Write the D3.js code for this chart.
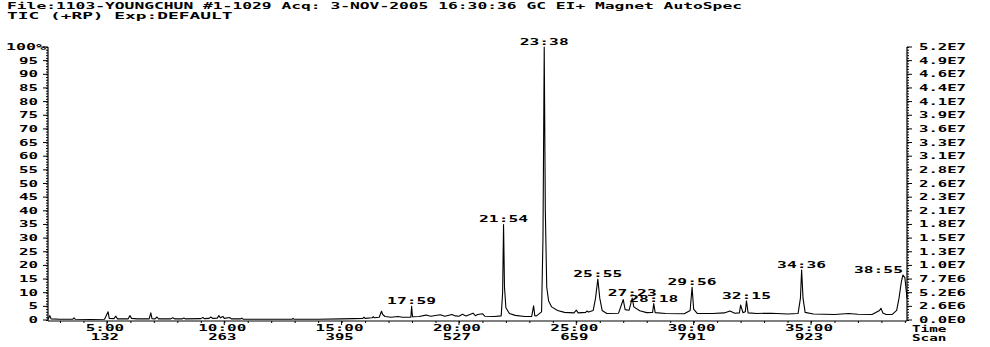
<!DOCTYPE html>
<html>
<head>
<meta charset="utf-8">
<script src="https://cdn.jsdelivr.net/npm/d3@7"></script>
<style>
  body { margin: 0; background: #fff; }
  text { font-family: "DejaVu Sans Mono", monospace; font-weight: bold; font-size: 8.5px; fill: #000; }
</style>
</head>
<body>
<script>
const width = 990;
const height = 347;

// header lines
const headerLines = [
    "File:1103-YOUNGCHUN #1-1029 Acq: 3-NOV-2005 16:30:36 GC EI+ Magnet AutoSpec",
    "TIC (+RP)   Exp:DEFAULT"
];

// axis ticks
const pctTicks = [0, 5, 10, 15, 20, 25, 30, 35, 40, 45, 50, 55, 60, 65, 70, 75, 80, 85, 90, 95, 100];
const absLabels = ["0.0E0", "2.6E6", "5.2E6", "7.7E6", "1.0E7", "1.3E7", "1.5E7", "1.8E7", "2.1E7", "2.3E7",
    "2.6E7", "2.8E7", "3.1E7", "3.3E7", "3.6E7", "3.9E7", "4.1E7", "4.4E7", "4.6E7", "4.9E7", "5.2E7"];
const timeTicks = [5, 10, 15, 20, 25, 30, 35];
const timeLabels = ["5:00", "10:00", "15:00", "20:00", "25:00", "30:00", "35:00"];
const scanLabels = ["132", "263", "395", "527", "659", "791", "923"];

// TIC trace: [minutes, % of base peak]
const trace = [
    [2.49, 0.3], [2.57, 1.6], [2.62, 0.4], [3.0, 0.3], [3.55, 0.3], [3.6, 0.8], [3.65, 0.3], [4.3, 0.2],
    [4.9, 0.3], [5.05, 3.0], [5.1, 0.6], [5.3, 0.5], [5.38, 1.4], [5.45, 0.4], [5.9, 0.4], [5.98, 1.6],
    [6.05, 0.6], [6.3, 0.4], [6.8, 0.4], [6.87, 2.6], [6.92, 0.5], [7.05, 0.4], [7.13, 1.1], [7.2, 0.4],
    [7.7, 0.4], [7.81, 0.8], [7.9, 0.4], [8.2, 0.4], [8.28, 0.7], [8.35, 0.4], [9.0, 0.5], [9.09, 0.9],
    [9.15, 0.5], [9.35, 0.6], [9.43, 1.1], [9.5, 0.6], [9.7, 0.7], [9.77, 1.6], [9.83, 0.8], [9.94, 1.3],
    [10.0, 0.6], [10.24, 0.9], [10.3, 0.4], [10.7, 0.4], [10.75, 0.7], [10.8, 0.3], [12.0, 0.3], [12.9, 0.3],
    [12.93, 0.6], [12.97, 0.3], [14.0, 0.3], [15.0, 0.4], [15.5, 0.5], [15.9, 0.6], [15.95, 1.0], [16.0, 0.6],
    [16.3, 0.8], [16.35, 1.2], [16.4, 0.8], [16.6, 1.0], [16.7, 3.2], [16.75, 2.0], [16.85, 1.3], [17.1, 1.0],
    [17.4, 1.3], [17.6, 1.0], [17.95, 1.0], [17.983, 5.0], [18.02, 1.2], [18.3, 1.3], [18.6, 1.8], [18.8, 1.4],
    [19.2, 1.9], [19.4, 1.4], [19.7, 2.0], [19.85, 1.5], [20.0, 1.4], [20.15, 2.1], [20.3, 1.5], [20.6, 2.5],
    [20.7, 1.6], [20.8, 2.0], [21.0, 2.3], [21.1, 1.4], [21.5, 1.3], [21.8, 1.5], [21.86, 10], [21.9, 35],
    [21.94, 12], [22.0, 4.5], [22.15, 2.4], [22.4, 1.7], [22.8, 1.3], [23.1, 1.3], [23.18, 5.2], [23.23, 1.6],
    [23.3, 1.5], [23.52, 3], [23.58, 30], [23.633, 100], [23.68, 40], [23.74, 12], [23.82, 7], [23.95, 4.8],
    [24.2, 3.5], [24.5, 2.8], [24.9, 2.6], [25.0, 3.6], [25.08, 2.6], [25.4, 2.8], [25.45, 3.3], [25.52, 2.9],
    [25.72, 3.5], [25.82, 8], [25.917, 15], [26.0, 8], [26.1, 3.5], [26.3, 2.4], [26.8, 2.5], [27.0, 7.5],
    [27.08, 3.8], [27.25, 3.6], [27.383, 8], [27.45, 4.8], [27.7, 3.4], [28.0, 2.7], [28.25, 2.8], [28.3, 6],
    [28.36, 2.7], [28.8, 2.4], [29.6, 2.3], [29.85, 3.5], [29.933, 12], [30.0, 4], [30.15, 2.4], [30.8, 2.4],
    [31.3, 2.6], [31.55, 3.3], [31.75, 2.5], [31.95, 2.6], [32.0, 5.5], [32.1, 2.7], [32.2, 3], [32.25, 7],
    [32.32, 2.6], [32.7, 2.4], [33.3, 2.5], [34.0, 2.2], [34.45, 2.4], [34.55, 8], [34.6, 18.3], [34.66, 8],
    [34.75, 2.8], [35.1, 2.2], [36.0, 2.0], [36.6, 2.4], [37.0, 2.1], [37.6, 2.0], [37.92, 3.5], [37.98, 4.3],
    [38.06, 2.6], [38.2, 2], [38.45, 2], [38.65, 3.5], [38.75, 8], [38.85, 14], [38.917, 16.5], [39.0, 15.5],
    [39.09, 8]
];

// labelled peaks
const peakTimes = [17.983, 21.9, 23.633, 25.917, 27.383, 28.3, 29.933, 32.25, 34.6, 38.917];
const peakLabels = ["17:59", "21:54", "23:38", "25:55", "27:23", "28:18", "29:56", "32:15", "34:36", "38:55"];
const peakAnchors = ["middle", "middle", "middle", "middle", "middle", "middle", "middle", "middle", "middle", "end"];

const x = d3.scaleLinear().domain([2.49, 39.09]).range([48, 907]);
const y = d3.scaleLinear().domain([0, 100]).range([320, 47]);

const svg = d3.select("body").append("svg")
    .attr("width", width)
    .attr("height", height);

// wide plotter-like text: stretch to a fixed pitch per character
function label(xp, yp, str, anchor, pitch) {
    return svg.append("text")
        .attr("x", xp)
        .attr("y", yp)
        .attr("text-anchor", anchor)
        .attr("textLength", str.length * pitch)
        .attr("lengthAdjust", "spacingAndGlyphs")
        .text(str);
}

headerLines.forEach((s, i) => label(7, 9 + i * 10, s, "start", 9.8));

// left axis
svg.append("line")
    .attr("x1", 48).attr("x2", 48)
    .attr("y1", y(100)).attr("y2", 321)
    .attr("stroke", "#000").attr("stroke-width", 1.2);

const leftAxis = d3.axisLeft(y).ticks(100).tickSize(2).tickFormat("");
svg.append("g").attr("transform", "translate(48,0)").call(leftAxis)
    .call(g => g.select(".domain").remove());

pctTicks.forEach(p => {
    svg.append("line")
        .attr("x1", 43).attr("x2", 48)
        .attr("y1", y(p)).attr("y2", y(p))
        .attr("stroke", "#000");
    if (p === 100) label(46, y(p) + 3, "100%", "end", 10);
    else label(38, y(p) + 3, String(p), "end", 9.5);
});

// right axis
svg.append("line")
    .attr("x1", 907).attr("x2", 907)
    .attr("y1", y(100)).attr("y2", 321)
    .attr("stroke", "#000").attr("stroke-width", 1.2);

const rightAxis = d3.axisRight(y).ticks(100).tickSize(2).tickFormat("");
svg.append("g").attr("transform", "translate(907,0)").call(rightAxis)
    .call(g => g.select(".domain").remove());

pctTicks.forEach((p, i) => {
    svg.append("line")
        .attr("x1", 907).attr("x2", 912)
        .attr("y1", y(p)).attr("y2", y(p))
        .attr("stroke", "#000");
    label(966, y(p) + 3, absLabels[i], "end", 9.4);
});

// bottom axis
svg.append("line")
    .attr("x1", 48).attr("x2", 907)
    .attr("y1", 321).attr("y2", 321)
    .attr("stroke", "#000").attr("stroke-width", 1);

const bottomAxis = d3.axisBottom(x).ticks(37).tickSize(2).tickFormat("");
svg.append("g").attr("transform", "translate(0,321)").call(bottomAxis)
    .call(g => g.select(".domain").remove());

timeTicks.forEach((t, i) => {
    svg.append("line")
        .attr("x1", x(t)).attr("x2", x(t))
        .attr("y1", 321).attr("y2", 325)
        .attr("stroke", "#000");
    label(x(t) - 2, 331, timeLabels[i], "middle", 9.6);
    label(x(t) - 2, 340, scanLabels[i], "middle", 9.4);
});

label(912, 332, "Time", "start", 8.6);
label(912, 341, "Scan", "start", 8.6);

// trace
const line = d3.line()
    .x(d => x(d[0]))
    .y(d => y(d[1]));

svg.append("path")
    .attr("d", line(trace))
    .attr("fill", "none")
    .attr("stroke", "#000")
    .attr("stroke-width", 1.1)
    .attr("stroke-linejoin", "round");

// peak labels
peakTimes.forEach((t, i) => {
    const apex = trace.reduce((a, b) => Math.abs(b[0] - t) < Math.abs(a[0] - t) ? b : a);
    label(x(t), y(apex[1]) - 2, peakLabels[i], peakAnchors[i], 9.8);
});
</script>
</body>
</html>
